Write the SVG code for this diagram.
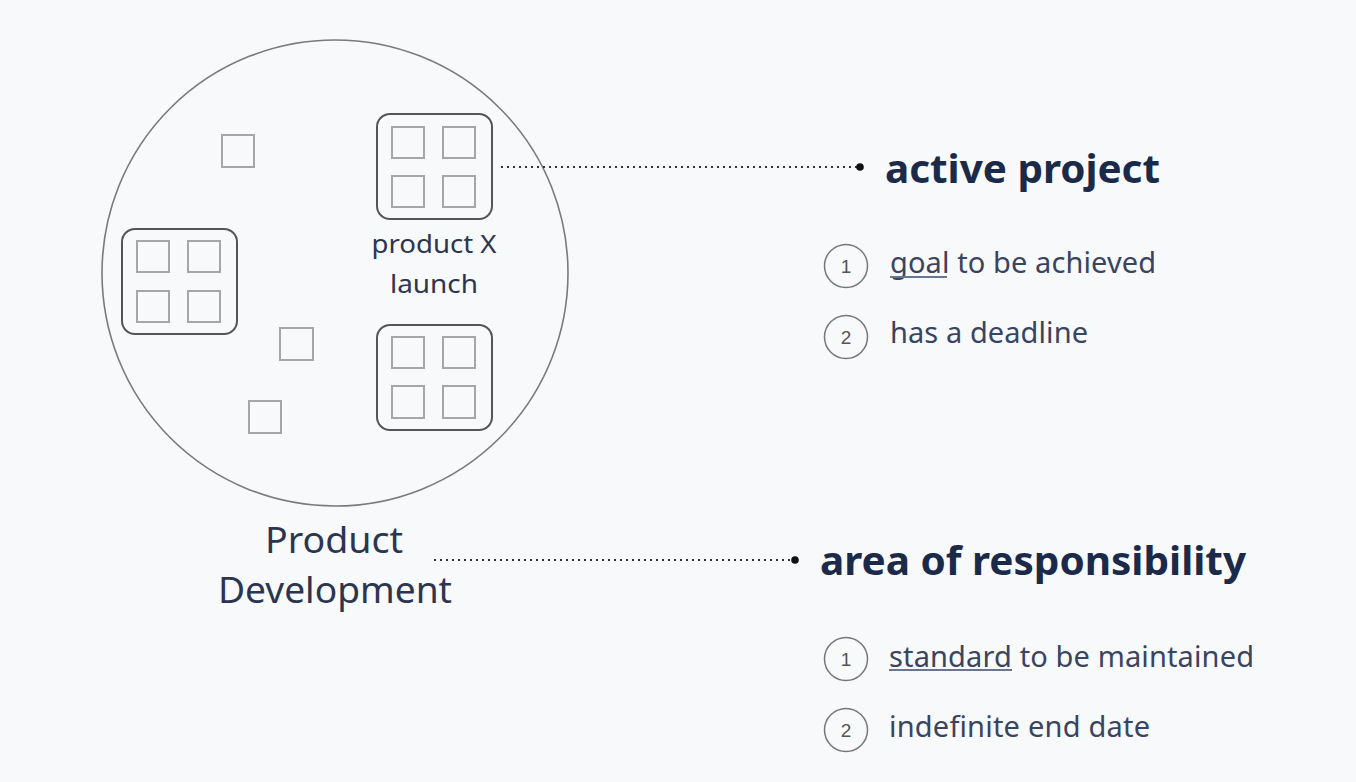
<svg xmlns="http://www.w3.org/2000/svg" width="1356" height="782" viewBox="0 0 1356 782">
<style>
.bg{fill:#f8f9fa}
.big{fill:none;stroke:#7a7a7a;stroke-width:1.6}
.grp{fill:none;stroke:#555;stroke-width:2}
.sq{fill:none;stroke:#a6a6a6;stroke-width:2}
.lbl{font-family:"Noto Sans","Open Sans",sans-serif;fill:#2c3550}
.head{font-family:"Noto Sans","Open Sans",sans-serif;font-weight:bold;fill:#1c2a4a;font-size:40px}
.item{font-family:"Noto Sans","Open Sans",sans-serif;fill:#3a4460;font-size:29px}
.num{font-family:"Liberation Sans",Arial,sans-serif;fill:#555;font-size:19px;text-anchor:middle}
.nc{fill:none;stroke:#777;stroke-width:1.5}
.dot{fill:none;stroke:#333;stroke-width:2;stroke-dasharray:2 4}
.ul{stroke:#6a7590;stroke-width:1.8}
</style>
<rect class="bg" x="0" y="0" width="1356" height="782"/>
<g id="area">
<circle class="big" cx="335" cy="273" r="233"/>
</g>
<g id="square1"><rect class="sq" x="222" y="135" width="32" height="32"/></g>
<g id="square2"><rect class="sq" x="280" y="328" width="33" height="32"/></g>
<g id="square3"><rect class="sq" x="249" y="401" width="32" height="32"/></g>
<g id="group-left">
<rect class="grp" x="122" y="229" width="115" height="105" rx="13"/>
<rect class="sq" x="137" y="241" width="32" height="31"/>
<rect class="sq" x="188" y="241" width="32" height="31"/>
<rect class="sq" x="137" y="291" width="32" height="31"/>
<rect class="sq" x="188" y="291" width="32" height="31"/>
</g>
<g id="group-productx">
<rect class="grp" x="377" y="114" width="115" height="105" rx="13"/>
<rect class="sq" x="392" y="127" width="32" height="31"/>
<rect class="sq" x="443" y="127" width="32" height="31"/>
<rect class="sq" x="392" y="176" width="32" height="31"/>
<rect class="sq" x="443" y="176" width="32" height="31"/>
<text class="lbl" x="434" y="253" font-size="26" text-anchor="middle" textLength="125" lengthAdjust="spacingAndGlyphs">product X</text>
<text class="lbl" x="434" y="293" font-size="26" text-anchor="middle" textLength="88" lengthAdjust="spacingAndGlyphs">launch</text>
</g>
<g id="group-bottom">
<rect class="grp" x="377" y="325" width="115" height="105" rx="13"/>
<rect class="sq" x="392" y="337" width="32" height="31"/>
<rect class="sq" x="443" y="337" width="32" height="31"/>
<rect class="sq" x="392" y="386" width="32" height="32"/>
<rect class="sq" x="443" y="386" width="32" height="32"/>
</g>
<g id="area-label">
<text class="lbl" x="334" y="553" font-size="37" text-anchor="middle" textLength="138" lengthAdjust="spacingAndGlyphs">Product</text>
<text class="lbl" x="335" y="603" font-size="37" text-anchor="middle" textLength="234" lengthAdjust="spacingAndGlyphs">Development</text>
</g>
<g id="connectors">
<line class="dot" x1="501" y1="167" x2="858" y2="167"/>
<circle cx="860" cy="167" r="3.8" fill="#111"/>
<line class="dot" x1="434" y1="560" x2="793" y2="560"/>
<circle cx="795" cy="560" r="3.8" fill="#111"/>
</g>
<g id="active-project">
<text class="head" x="885" y="183" textLength="275" lengthAdjust="spacingAndGlyphs">active project</text>
<circle class="nc" cx="846" cy="266" r="21.5"/>
<text class="num" x="846" y="273">1</text>
<text class="item" x="890" y="273" textLength="266" lengthAdjust="spacing">goal to be achieved</text>
<line class="ul" x1="890" y1="277" x2="947" y2="277"/>
<circle class="nc" cx="846" cy="337" r="21.5"/>
<text class="num" x="846" y="344">2</text>
<text class="item" x="890" y="343" textLength="198" lengthAdjust="spacing">has a deadline</text>
</g>
<g id="area-of-responsibility">
<text class="head" x="820" y="575" textLength="426" lengthAdjust="spacingAndGlyphs">area of responsibility</text>
<circle class="nc" cx="846" cy="659" r="21.5"/>
<text class="num" x="846" y="666">1</text>
<text class="item" x="889" y="667" textLength="365" lengthAdjust="spacing">standard to be maintained</text>
<line class="ul" x1="889" y1="670" x2="1012" y2="670"/>
<circle class="nc" cx="846" cy="730" r="21.5"/>
<text class="num" x="846" y="737">2</text>
<text class="item" x="889" y="737" textLength="261" lengthAdjust="spacing">indefinite end date</text>
</g>
</svg>
